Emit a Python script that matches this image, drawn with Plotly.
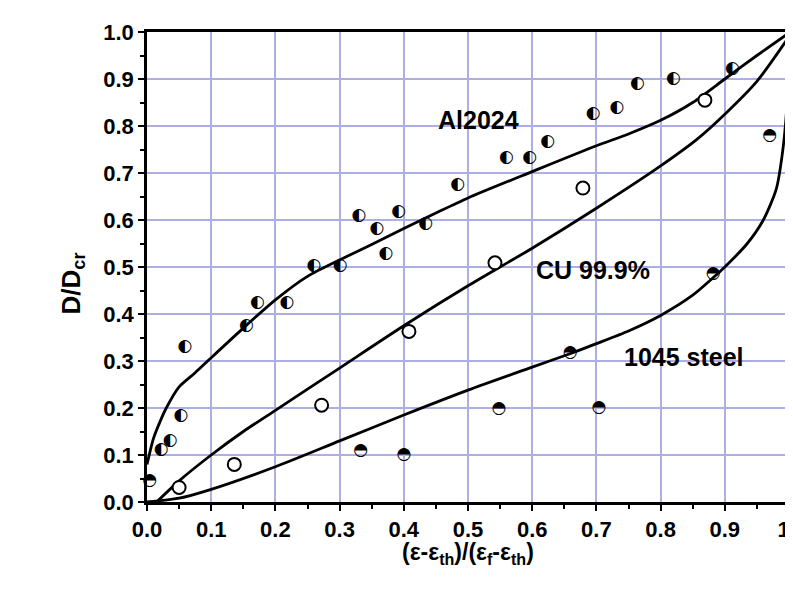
import plotly.graph_objects as go

# ---- data ----
al_x = [0.022, 0.036, 0.053, 0.059, 0.155, 0.172, 0.218, 0.260, 0.301, 0.330, 0.358,
        0.372, 0.392, 0.434, 0.484, 0.560, 0.596, 0.624, 0.695, 0.732, 0.764, 0.820, 0.912]
al_y = [0.112, 0.130, 0.183, 0.331, 0.376, 0.425, 0.424, 0.503, 0.502, 0.609, 0.582,
        0.529, 0.618, 0.593, 0.674, 0.732, 0.732, 0.767, 0.827, 0.838, 0.890, 0.900, 0.921]

cu_x = [0.050, 0.136, 0.272, 0.408, 0.542, 0.679, 0.869]
cu_y = [0.031, 0.080, 0.206, 0.363, 0.509, 0.668, 0.855]

st_x = [0.004, 0.333, 0.400, 0.548, 0.659, 0.704, 0.882, 0.970]
st_y = [0.046, 0.110, 0.101, 0.199, 0.318, 0.201, 0.486, 0.779]

al_fit_x = [0.0, 0.01, 0.02, 0.03, 0.05, 0.075, 0.10, 0.15, 0.20, 0.25, 0.30, 0.35,
            0.40, 0.45, 0.50, 0.60, 0.70, 0.75, 0.80, 0.85, 0.90, 0.95, 1.0]
al_fit_y = [0.08, 0.135, 0.170, 0.200, 0.245, 0.275, 0.307, 0.370, 0.430, 0.480, 0.515,
            0.548, 0.582, 0.615, 0.647, 0.703, 0.758, 0.783, 0.812, 0.850, 0.900, 0.950, 0.998]

cu_fit_x = [0.015, 0.05, 0.10, 0.15, 0.20, 0.30, 0.40, 0.50, 0.60, 0.70, 0.80, 0.857,
            0.90, 0.95, 1.0]
cu_fit_y = [0.0, 0.045, 0.100, 0.150, 0.195, 0.285, 0.375, 0.460, 0.540, 0.625, 0.715,
            0.772, 0.825, 0.895, 0.990]

st_fit_x = [0.0, 0.05, 0.10, 0.20, 0.30, 0.40, 0.50, 0.60, 0.66, 0.70, 0.75, 0.80,
            0.85, 0.88, 0.90, 0.935, 0.96, 0.98, 0.99, 0.997, 1.0]
st_fit_y = [0.0, 0.008, 0.027, 0.075, 0.130, 0.185, 0.238, 0.287, 0.316, 0.337, 0.364,
            0.397, 0.440, 0.475, 0.500, 0.550, 0.600, 0.665, 0.745, 0.850, 0.990]

x_ticks = [0.0, 0.1, 0.2, 0.3, 0.4, 0.5, 0.6, 0.7, 0.8, 0.9, 1.0]
x_tick_text = ["0.0", "0.1", "0.2", "0.3", "0.4", "0.5", "0.6", "0.7", "0.8", "0.9", "1\u2002"]
y_ticks = [0.0, 0.1, 0.2, 0.3, 0.4, 0.5, 0.6, 0.7, 0.8, 0.9, 1.0]
y_tick_text = ["0.0", "0.1", "0.2", "0.3", "0.4", "0.5", "0.6", "0.7", "0.8", "0.9", "1.0"]

FONT = "Liberation Sans, Arial, sans-serif"
GRID = "#adaee3"

fig = go.Figure()

line_style = dict(color="black", width=2.8, shape="spline", smoothing=0.7)
for fx, fy in [(al_fit_x, al_fit_y), (cu_fit_x, cu_fit_y), (st_fit_x, st_fit_y)]:
    fig.add_trace(go.Scatter(x=fx, y=fy, mode="lines", line=line_style,
                             showlegend=False, hoverinfo="skip", cliponaxis=False))

# Cu: open circles
fig.add_trace(go.Scatter(x=cu_x, y=cu_y, mode="markers", showlegend=False,
                         marker=dict(symbol="circle", size=13, color="white",
                                     line=dict(color="black", width=2)),
                         cliponaxis=False))

# Al 2024: circle with left half black
fig.add_trace(go.Scatter(x=al_x, y=al_y, mode="text", text=["\u25D0"] * len(al_x),
                         textposition="middle center", showlegend=False,
                         textfont=dict(family="DejaVu Sans", size=17, color="black"),
                         cliponaxis=False))

# 1045 steel: circle with upper half black
fig.add_trace(go.Scatter(x=st_x, y=st_y, mode="text", text=["\u25D3"] * len(st_x),
                         textposition="middle center", showlegend=False,
                         textfont=dict(family="DejaVu Sans", size=17, color="black"),
                         cliponaxis=False))

ann_font = dict(family=FONT, size=25, color="black", weight="bold")
fig.add_annotation(x=0.516, y=0.813, text="Al2024", showarrow=False, font=ann_font)
fig.add_annotation(x=0.695, y=0.493, text="CU 99.9%", showarrow=False, font=ann_font)
fig.add_annotation(x=0.836, y=0.309, text="1045 steel", showarrow=False, font=ann_font)

# axis titles
fig.add_annotation(xref="paper", yref="paper", x=0, y=0.465, xshift=-75,
                   text="D/D<sub>cr</sub>", textangle=-90, showarrow=False,
                   xanchor="center", yanchor="middle",
                   font=dict(family=FONT, size=26, color="black", weight="bold"))
fig.add_annotation(xref="paper", yref="paper", x=0.5, y=0, yshift=-51,
                   text="(ε-ε<sub>th</sub>)/(ε<sub>f</sub>-ε<sub>th</sub>)", showarrow=False,
                   xanchor="center", yanchor="middle",
                   font=dict(family=FONT, size=23, color="black", weight="bold"))

axis_common = dict(
    showgrid=True, gridcolor=GRID, gridwidth=1.5,
    showline=True, linecolor="black", linewidth=2.5,
    ticks="outside", ticklen=6, tickwidth=2, tickcolor="black",
    tickfont=dict(family=FONT, size=22, color="black", weight="bold"),
    zeroline=False,
    minor=dict(ticks="outside", ticklen=4, tickwidth=1.5, tickcolor="black", dtick=0.05,
               showgrid=False),
)

fig.update_xaxes(range=[0, 1], tickmode="array", tickvals=x_ticks, ticktext=x_tick_text,
                 mirror=True, **axis_common)
fig.update_yaxes(range=[0, 1], tickmode="array", tickvals=y_ticks, ticktext=y_tick_text,
                 **axis_common)

fig.update_layout(
    width=805, height=581,
    margin=dict(l=139, r=21, t=23, b=87),
    paper_bgcolor="white", plot_bgcolor="white",
    showlegend=False,
)

fig.write_html("out.html")
